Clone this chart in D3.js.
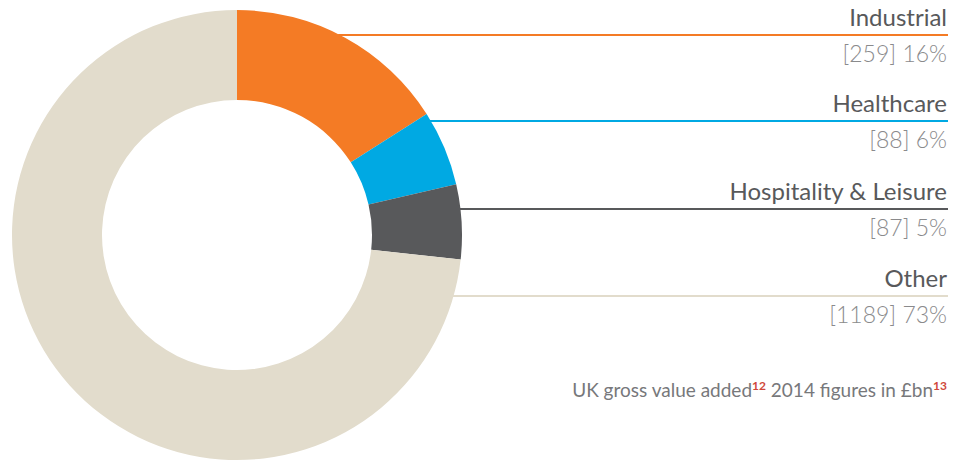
<!DOCTYPE html>
<html>
<head>
<meta charset="utf-8">
<script src="https://cdn.jsdelivr.net/npm/d3@7"></script>
<style>
  html, body { margin: 0; padding: 0; background: #fff; }
  svg { display: block; }
  text { font-family: Lato, "Open Sans", sans-serif; }
</style>
</head>
<body>
<svg id="chart" width="964" height="462"></svg>
<script>
// UK gross value added by sector, 2014 (£bn)
const categories = ["Industrial", "Healthcare", "Hospitality & Leisure", "Other"];
const values = [259, 88, 87, 1189];
const percentLabels = ["16%", "6%", "5%", "73%"];
const colors = ["#f47b25", "#00a9e3", "#58595b", "#e2dccc"];
// y position of each leader line
const leaderY = [35, 121, 209, 296];

const svg = d3.select("#chart");
const cx = 237, cy = 235, outerR = 225, innerR = 135;
const rightX = 947;

const data = categories.map((c, i) => ({ name: c, value: values[i], pct: percentLabels[i], color: colors[i], y: leaderY[i] }));

// leader lines start at the ring's outer edge and run to the right-hand labels
const edgeX = y => cx + Math.sqrt(Math.max(0, outerR * outerR - (y - cy) * (y - cy))) - 2;
svg.append("g").selectAll("line")
  .data(data)
  .join("line")
  .attr("x1", d => edgeX(d.y)).attr("x2", rightX + 1)
  .attr("y1", d => d.y).attr("y2", d => d.y)
  .attr("stroke", d => d.color)
  .attr("stroke-width", 2);

const pie = d3.pie().value(d => d.value).sort(null);
const arc = d3.arc().innerRadius(innerR).outerRadius(outerR);

svg.append("g")
  .attr("transform", `translate(${cx},${cy})`)
  .selectAll("path")
  .data(pie(data))
  .join("path")
  .attr("d", arc)
  .attr("fill", d => d.data.color);

const labels = svg.append("g").selectAll("g")
  .data(data)
  .join("g");

labels.append("text")
  .attr("x", rightX).attr("y", d => d.y - 9)
  .attr("text-anchor", "end")
  .attr("font-size", 24)
  .attr("fill", "#58595b")
  .text(d => d.name);

labels.append("text")
  .attr("x", rightX).attr("y", d => d.y + 27)
  .attr("text-anchor", "end")
  .attr("font-size", 23)
  .attr("font-weight", 300)
  .attr("fill", "#8a8a8c")
  .text(d => `[${d.value}] ${d.pct}`);

// source note with footnote markers
const note = svg.append("text")
  .attr("x", rightX).attr("y", 397)
  .attr("text-anchor", "end")
  .attr("font-size", 19)
  .attr("fill", "#77787b");
note.append("tspan").text("UK gross value added");
note.append("tspan").attr("font-size", 12).attr("font-weight", 700).attr("fill", "#d0483a").attr("dy", -7).text("12");
note.append("tspan").attr("dy", 7).text(" 2014 figures in £bn");
note.append("tspan").attr("font-size", 12).attr("font-weight", 700).attr("fill", "#d0483a").attr("dy", -7).text("13");
</script>
</body>
</html>
